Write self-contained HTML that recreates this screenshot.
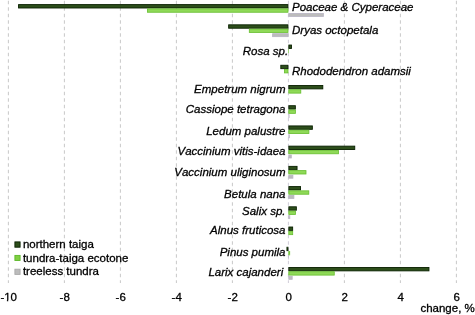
<!DOCTYPE html><html><head><meta charset="utf-8"><style>html,body{margin:0;padding:0;background:#fff;}svg{display:block;will-change:transform;}text{font-family:"Liberation Sans",sans-serif;font-size:11.5px;font-kerning:none;fill:#000;stroke:#000;stroke-width:0.3px;}</style></head><body>
<svg width="475" height="315" viewBox="0 0 475 315">
<line x1="8.40" y1="0" x2="8.40" y2="283" stroke="#cbcbcb" stroke-width="1.05" stroke-dasharray="3.6 2.9" stroke-dashoffset="-0.7"/>
<line x1="64.40" y1="0" x2="64.40" y2="283" stroke="#cbcbcb" stroke-width="1.05" stroke-dasharray="3.6 2.9" stroke-dashoffset="-0.7"/>
<line x1="120.40" y1="0" x2="120.40" y2="283" stroke="#cbcbcb" stroke-width="1.05" stroke-dasharray="3.6 2.9" stroke-dashoffset="-0.7"/>
<line x1="176.40" y1="0" x2="176.40" y2="283" stroke="#cbcbcb" stroke-width="1.05" stroke-dasharray="3.6 2.9" stroke-dashoffset="-0.7"/>
<line x1="232.40" y1="0" x2="232.40" y2="283" stroke="#cbcbcb" stroke-width="1.05" stroke-dasharray="3.6 2.9" stroke-dashoffset="-0.7"/>
<line x1="288.40" y1="0" x2="288.40" y2="283" stroke="#d2cfda" stroke-width="1.05" stroke-dasharray="3.6 2.9" stroke-dashoffset="-0.7"/>
<line x1="344.40" y1="0" x2="344.40" y2="283" stroke="#cbcbcb" stroke-width="1.05" stroke-dasharray="3.6 2.9" stroke-dashoffset="-0.7"/>
<line x1="400.40" y1="0" x2="400.40" y2="283" stroke="#cbcbcb" stroke-width="1.05" stroke-dasharray="3.6 2.9" stroke-dashoffset="-0.7"/>
<line x1="456.40" y1="0" x2="456.40" y2="283" stroke="#cbcbcb" stroke-width="1.05" stroke-dasharray="3.6 2.9" stroke-dashoffset="-0.7"/>
<rect x="18.55" y="4.60" width="269.40" height="3.40" fill="#2d4e1b" stroke="#092000" stroke-width="0.9"/>
<rect x="147.40" y="8.85" width="140.60" height="3.40" fill="#8fd958" stroke="#66be2e" stroke-width="0.8"/>
<rect x="288.80" y="13.45" width="34.60" height="3.00" fill="#bcbcbc" stroke="#b9b5c4" stroke-width="0.8"/>
<rect x="228.65" y="24.82" width="59.30" height="3.40" fill="#2d4e1b" stroke="#092000" stroke-width="0.9"/>
<rect x="249.30" y="29.07" width="38.70" height="3.40" fill="#8fd958" stroke="#66be2e" stroke-width="0.8"/>
<rect x="272.60" y="33.67" width="15.40" height="3.00" fill="#bcbcbc" stroke="#b9b5c4" stroke-width="0.8"/>
<rect x="288.85" y="45.04" width="2.60" height="3.40" fill="#2d4e1b" stroke="#092000" stroke-width="0.9"/>
<rect x="288.40" y="48.89" width="0.60" height="4.20" fill="#66be2e"/>
<rect x="280.80" y="65.26" width="7.15" height="3.40" fill="#2d4e1b" stroke="#092000" stroke-width="0.9"/>
<rect x="284.40" y="69.51" width="3.60" height="3.40" fill="#8fd958" stroke="#66be2e" stroke-width="0.8"/>
<rect x="288.85" y="85.48" width="33.95" height="3.40" fill="#2d4e1b" stroke="#092000" stroke-width="0.9"/>
<rect x="288.80" y="89.73" width="12.00" height="3.40" fill="#8fd958" stroke="#66be2e" stroke-width="0.8"/>
<rect x="288.85" y="105.70" width="6.50" height="3.40" fill="#2d4e1b" stroke="#092000" stroke-width="0.9"/>
<rect x="288.80" y="109.95" width="6.60" height="3.40" fill="#8fd958" stroke="#66be2e" stroke-width="0.8"/>
<rect x="288.40" y="114.15" width="1.10" height="3.80" fill="#b9b5c4"/>
<rect x="288.85" y="125.92" width="23.50" height="3.40" fill="#2d4e1b" stroke="#092000" stroke-width="0.9"/>
<rect x="288.80" y="130.17" width="20.10" height="3.40" fill="#8fd958" stroke="#66be2e" stroke-width="0.8"/>
<rect x="288.40" y="134.37" width="1.40" height="3.80" fill="#b9b5c4"/>
<rect x="288.85" y="146.14" width="65.90" height="3.40" fill="#2d4e1b" stroke="#092000" stroke-width="0.9"/>
<rect x="288.80" y="150.39" width="49.70" height="3.40" fill="#8fd958" stroke="#66be2e" stroke-width="0.8"/>
<rect x="288.80" y="154.99" width="2.50" height="3.00" fill="#bcbcbc" stroke="#b9b5c4" stroke-width="0.8"/>
<rect x="288.85" y="166.36" width="8.20" height="3.40" fill="#2d4e1b" stroke="#092000" stroke-width="0.9"/>
<rect x="288.80" y="170.61" width="17.20" height="3.40" fill="#8fd958" stroke="#66be2e" stroke-width="0.8"/>
<rect x="288.80" y="175.21" width="4.10" height="3.00" fill="#bcbcbc" stroke="#b9b5c4" stroke-width="0.8"/>
<rect x="288.85" y="186.58" width="11.70" height="3.40" fill="#2d4e1b" stroke="#092000" stroke-width="0.9"/>
<rect x="288.80" y="190.83" width="20.00" height="3.40" fill="#8fd958" stroke="#66be2e" stroke-width="0.8"/>
<rect x="288.80" y="195.43" width="5.10" height="3.00" fill="#bcbcbc" stroke="#b9b5c4" stroke-width="0.8"/>
<rect x="288.85" y="206.80" width="7.50" height="3.40" fill="#2d4e1b" stroke="#092000" stroke-width="0.9"/>
<rect x="288.80" y="211.05" width="6.70" height="3.40" fill="#8fd958" stroke="#66be2e" stroke-width="0.8"/>
<rect x="288.80" y="215.65" width="1.00" height="3.00" fill="#bcbcbc" stroke="#b9b5c4" stroke-width="0.8"/>
<rect x="288.85" y="227.02" width="3.80" height="3.40" fill="#2d4e1b" stroke="#092000" stroke-width="0.9"/>
<rect x="288.80" y="231.27" width="3.90" height="3.40" fill="#8fd958" stroke="#66be2e" stroke-width="0.8"/>
<rect x="286.95" y="247.24" width="1.00" height="3.40" fill="#2d4e1b" stroke="#092000" stroke-width="0.9"/>
<rect x="288.80" y="251.49" width="0.90" height="3.40" fill="#8fd958" stroke="#66be2e" stroke-width="0.8"/>
<rect x="288.40" y="255.69" width="0.60" height="3.80" fill="#b9b5c4"/>
<rect x="288.85" y="267.46" width="140.10" height="3.40" fill="#2d4e1b" stroke="#092000" stroke-width="0.9"/>
<rect x="288.80" y="271.71" width="45.45" height="3.40" fill="#8fd958" stroke="#66be2e" stroke-width="0.8"/>
<rect x="288.80" y="276.31" width="3.40" height="3.00" fill="#bcbcbc" stroke="#b9b5c4" stroke-width="0.8"/>
<text x="292.0" y="10.7" font-style="italic">Poaceae &amp; Cyperaceae</text>
<text x="292.0" y="34.2" font-style="italic">Dryas octopetala</text>
<text x="288.2" y="54.8" font-style="italic" text-anchor="end">Rosa sp.</text>
<text x="292.0" y="75.2" font-style="italic">Rhododendron adamsii</text>
<text x="285.5" y="92.7" font-style="italic" text-anchor="end">Empetrum nigrum</text>
<text x="285.5" y="113.0" font-style="italic" text-anchor="end">Cassiope tetragona</text>
<text x="285.5" y="135.3" font-style="italic" text-anchor="end">Ledum palustre</text>
<text x="285.5" y="155.2" font-style="italic" text-anchor="end">Vaccinium vitis-idaea</text>
<text x="285.5" y="176.2" font-style="italic" text-anchor="end">Vaccinium uliginosum</text>
<text x="285.5" y="197.8" font-style="italic" text-anchor="end">Betula nana</text>
<text x="285.5" y="214.6" font-style="italic" text-anchor="end">Salix sp.</text>
<text x="285.5" y="233.6" font-style="italic" text-anchor="end">Alnus fruticosa</text>
<text x="285.5" y="256.4" font-style="italic" text-anchor="end">Pinus pumila</text>
<text x="283.2" y="275.6" font-style="italic" text-anchor="end">Larix cajanderi</text>
<text x="8.70" y="300.8" text-anchor="middle">-10</text>
<text x="64.70" y="300.8" text-anchor="middle">-8</text>
<text x="120.70" y="300.8" text-anchor="middle">-6</text>
<text x="176.70" y="300.8" text-anchor="middle">-4</text>
<text x="232.70" y="300.8" text-anchor="middle">-2</text>
<text x="288.70" y="300.8" text-anchor="middle">0</text>
<text x="344.70" y="300.8" text-anchor="middle">2</text>
<text x="400.70" y="300.8" text-anchor="middle">4</text>
<text x="456.70" y="300.8" text-anchor="middle">6</text>
<rect x="3.6" y="299.9" width="3.3" height="2.2" fill="#fff"/><rect x="8.25" y="299.9" width="2.5" height="2.2" fill="#fff"/>
<text x="474.8" y="311.8" text-anchor="end">change, %</text>
<rect x="14.9" y="241.9" width="5.2" height="5.3" fill="#2d4e1b" stroke="#092000" stroke-width="0.9"/>
<text x="22.9" y="248.0">northern taiga</text>
<rect x="14.9" y="255.4" width="5.2" height="5.1" fill="#80cf42" stroke="#5cb82a" stroke-width="0.9"/>
<text x="22.9" y="261.5">tundra-taiga ecotone</text>
<rect x="14.9" y="269.20000000000005" width="5.2" height="5.2" fill="#bcbcbc" stroke="#a9a9a9" stroke-width="0.9"/>
<text x="22.9" y="274.9">treeless tundra</text>
</svg></body></html>
